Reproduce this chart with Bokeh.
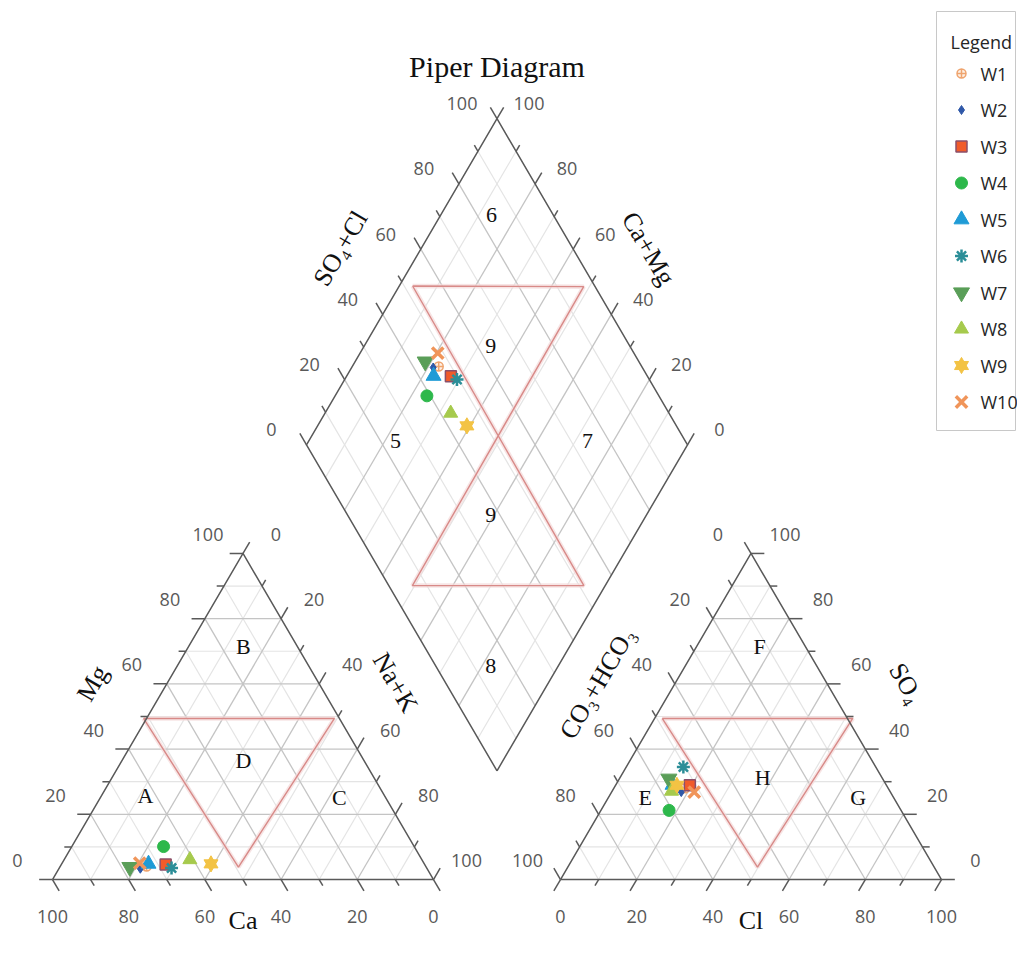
import numpy as np
from bokeh.plotting import figure
from bokeh.models import Range1d
from bokeh.embed import file_html
from bokeh.resources import INLINE
from bokeh.core.properties import value

# ---------------- data (percent of meq) ----------------
samples = ["W1", "W2", "W3", "W4", "W5", "W6", "W7", "W8", "W9", "W10"]
ca   = [73.3, 75.3, 68.0, 65.8, 72.4, 67.0, 77.8, 60.9, 56.0, 74.6]
mg   = [4.0, 3.3, 4.6, 10.1, 4.8, 3.5, 3.8, 6.1, 4.8, 5.0]
na_k = [22.7, 21.4, 27.4, 24.1, 22.8, 29.5, 18.4, 33.0, 39.2, 20.4]
so4  = [28.0, 26.8, 28.9, 21.2, 29.0, 34.5, 30.9, 27.1, 28.9, 26.8]
cl   = [18.7, 18.3, 19.5, 17.9, 14.9, 15.0, 13.0, 15.6, 16.1, 21.7]
hco3 = [53.3, 54.9, 51.6, 60.9, 56.1, 50.5, 56.1, 57.3, 55.0, 51.5]

tick_values = [0, 20, 40, 60, 80, 100]
cation_regions = ["A", "B", "C", "D"]
anion_regions = ["E", "F", "G", "H"]
diamond_regions = ["5", "6", "7", "8", "9", "9"]

# ---------------- geometry ----------------
S = np.sqrt(3) / 2
GAP = 100 / 3
OXR = 100 + GAP          # origin of the anion triangle
BX, BY = 100 + GAP / 2, GAP * S   # bottom vertex of the diamond


def cat_xy(na, m):
    return na + m / 2, S * m


def an_xy(c, s):
    return OXR + c + s / 2, S * s


def dia_xy(u, v):   # u = Ca+Mg, v = SO4+Cl
    return BX + 0.5 * (v - u), BY + S * (u + v)


p = figure(width=1017, height=940,
           x_range=Range1d(-13.648, 253.28), y_range=Range1d(-16.20, 233.47),
           x_axis_type=None, y_axis_type=None, toolbar_location=None,
           output_backend="svg", min_border=0, outline_line_color=None)
p.grid.visible = False

# ---------------- grids ----------------
maj_x, maj_y, min_x, min_y = [], [], [], []


def add_seg(a, b, k):
    if k % 20 == 0:
        maj_x.append([a[0], b[0]]); maj_y.append([a[1], b[1]])
    else:
        min_x.append([a[0], b[0]]); min_y.append([a[1], b[1]])


for ox in (0, OXR):
    for k in range(10, 100, 10):
        add_seg((ox + k / 2, S * k), (ox + 100 - k / 2, S * k), k)
        add_seg((ox + k, 0), (ox + k + (100 - k) / 2, S * (100 - k)), k)
        add_seg((ox + 100 - k, 0), (ox + (100 - k) / 2, S * (100 - k)), k)
for k in range(10, 100, 10):
    add_seg(dia_xy(k, 0), dia_xy(k, 100), k)
    add_seg(dia_xy(0, k), dia_xy(100, k), k)

p.multi_line(min_x, min_y, line_color="#E4E4E4", line_width=1.2)
p.multi_line(maj_x, maj_y, line_color="#C4C4C4", line_width=1.3)

# ---------------- red subdivision lines ----------------
red_l = [cat_xy(-0.8, 49.4), cat_xy(49.3, 49.4), cat_xy(46.9, 3.8), cat_xy(-0.8, 49.4)]
red_r = [an_xy(2.0, 49.4), an_xy(52.0, 49.4), an_xy(49.8, 3.8), an_xy(2.0, 49.4)]
d_tl, d_tr = dia_xy(96.5, 52.2), dia_xy(51.5, 97.0)
d_bl, d_br = dia_xy(50.6, 6.2), dia_xy(5.6, 51.2)
red_d = [d_tl, d_tr, d_bl, d_br, d_tl]
reds = [red_l, red_r, red_d]
rx = [[q[0] for q in r] for r in reds]
ry = [[q[1] for q in r] for r in reds]
p.multi_line(rx, ry, line_color="#F3DADA", line_width=4.5, line_alpha=0.7)
p.multi_line(rx, ry, line_color="#D88A88", line_width=1.4)

# ---------------- outlines ----------------
tri_l = [(0, 0), (100, 0), (50, 100 * S), (0, 0)]
tri_r = [(OXR, 0), (OXR + 100, 0), (OXR + 50, 100 * S), (OXR, 0)]
dia = [dia_xy(0, 0), dia_xy(100, 0), dia_xy(100, 100), dia_xy(0, 100), dia_xy(0, 0)]
p.multi_line([[q[0] for q in t] for t in (tri_l, tri_r, dia)],
             [[q[1] for q in t] for t in (tri_l, tri_r, dia)],
             line_color="#595959", line_width=1.5)

# ---------------- ticks ----------------
tx, ty = [], []


def add_tick(pt, d, k):
    L = 3.5 if k % 20 == 0 else 1.9
    tx.append([pt[0], pt[0] + d[0] * L]); ty.append([pt[1], pt[1] + d[1] * L])


for k in range(0, 101, 10):
    add_tick(cat_xy(0, k), (-1, 0), k)                       # Mg (left)
    add_tick(cat_xy(k, 100 - k), (0.5, S), k)                 # Na+K (right)
    add_tick(cat_xy(100 - k, 0), (0.5, -S), k)                # Ca (bottom)
    add_tick(an_xy(0, 100 - k), (-0.5, S), k)                 # CO3+HCO3 (left)
    add_tick(an_xy(100 - k, k), (1, 0), k)                    # SO4 (right)
    add_tick(an_xy(k, 0), (-0.5, -S), k)                      # Cl (bottom)
    add_tick(dia_xy(100, k), (-0.5, S), k)                    # SO4+Cl
    add_tick(dia_xy(k, 100), (0.5, S), k)                     # Ca+Mg
p.multi_line(tx, ty, line_color="#595959", line_width=1.5)

# ---------------- tick labels ----------------
lx, ly, lt = [], [], []
for t in tick_values:
    for (pt, off) in [
        (cat_xy(0, t), (-9.19, 5.05)),          # Mg
        (cat_xy(t, 100 - t), (8.66, 5.05)),     # Na+K
        (cat_xy(100 - t, 0), (0, -9.9)),        # Ca
        (an_xy(0, 100 - t), (-8.66, 5.05)),     # CO3+HCO3
        (an_xy(100 - t, t), (8.92, 5.05)),      # SO4
        (an_xy(t, 0), (0, -9.9)),               # Cl
        (dia_xy(100, t), (-9.19, 3.98)),        # SO4+Cl
        (dia_xy(t, 100), (8.4, 3.98)),          # Ca+Mg
    ]:
        lx.append(pt[0] + off[0]); ly.append(pt[1] + off[1]); lt.append(str(t))
p.text(lx, ly, text=lt, text_font=value("Open Sans"), text_font_size=value("18px"),
       text_color="#595959", text_align="center", text_baseline="middle")

# ---------------- titles ----------------
A60 = np.deg2rad(59.7)
serif = value("Liberation Serif")
p.text([BX], [215.9], text=["Piper Diagram"], text_font=serif, text_font_size=value("30px"),
       text_color="#111111", text_align="center", text_baseline="middle")
p.text([75.6, 156.4, 10.5, 90.0, 143.0, 224.1, 50.0, OXR + 50],
       [167.6, 167.6, 52.1, 52.3, 52.1, 52.1, -11.0, -11.0],
       text=["SO\u2084+Cl", "Ca+Mg", "Mg", "Na+K", "CO\u2083+HCO\u2083", "SO\u2084", "Ca", "Cl"],
       angle=[A60, -A60, A60, -A60, A60, -A60, 0, 0],
       text_font=serif, text_font_size=value("26px"), text_color="#111111",
       text_align="center", text_baseline="middle")

# region labels
reg_xy = [(24.4, 22.3), (50.1, 61.9), (75.3, 21.8), (50.1, 31.6),
          (155.6, 21.8), (185.6, 61.9), (211.5, 21.8), (186.4, 27.1),
          (90.0, 116.6), (115.2, 176.4), (140.4, 116.6), (115.0, 56.8), (115.0, 141.8), (115.0, 96.7)]
p.text([q[0] for q in reg_xy], [q[1] for q in reg_xy],
       text=cation_regions + anion_regions + diamond_regions,
       text_font=serif, text_font_size=value("22px"), text_color="#111111",
       text_align="center", text_baseline="middle")

# ---------------- samples ----------------
STY = {
    "W1": dict(marker=["circle_cross"], size=9, fill_color="#FDF0E6", line_color="#EFA46E", line_width=1.5),
    "W2": dict(marker=["diamond"], size=9, fill_color="#2F58A8", line_color="#2F58A8", line_width=1),
    "W3": dict(marker=["square"], size=11, fill_color="#F15B2A", line_color="#8A4F6A", line_width=1.5),
    "W4": dict(marker=["circle"], size=12, fill_color="#2DB84B", line_color="#2DB84B", line_width=1),
    "W5": dict(marker=["triangle"], size=15, fill_color="#1F9BD6", line_color="#1F9BD6", line_width=1),
    "W6": dict(marker=["asterisk"], size=13, fill_color=None, line_color="#2B8E98", line_width=2.5),
    "W7": dict(marker=["inverted_triangle"], size=16, fill_color="#5A9E58", line_color="#5A9E58", line_width=1),
    "W8": dict(marker=["triangle"], size=14, fill_color="#A6CA4D", line_color="#A6CA4D", line_width=1),
    "W9": dict(marker=["triangle", "inverted_triangle"], size=14, fill_color="#F3C344", line_color="#F3C344", line_width=1),
    "W10": dict(marker=["x"], size=16, fill_color=None, line_color="#F0955A", line_width=3.5),
}


def draw(name, xs, ys):
    st = STY[name]
    for mk in st["marker"]:
        p.scatter(xs, ys, marker=mk, size=st["size"], fill_color=st["fill_color"],
                  line_color=st["line_color"], line_width=st["line_width"])


for i, name in enumerate(samples):
    cx, cy = cat_xy(na_k[i], mg[i])
    axx, ayy = an_xy(cl[i], so4[i])
    dx, dy = dia_xy(ca[i] + mg[i], so4[i] + cl[i])
    draw(name, [cx, axx, dx], [cy, ayy, dy])

# ---------------- legend (drawn) ----------------
p.quad(left=[(936 - 52) / 3.81], right=[(1015 - 52) / 3.81], top=[(879 - 11) / 3.765], bottom=[(879 - 430) / 3.765],
       fill_color="white", line_color="#C8C8C8", line_width=1)
p.text([(950 - 52) / 3.81], [(879 - 41) / 3.765], text=["Legend"], text_font=value("Open Sans"),
       text_font_size=value("18px"), text_color="#262626", text_align="left", text_baseline="middle")
for i, name in enumerate(samples):
    yy = (879 - (73 + 36.5 * i)) / 3.765
    draw(name, [(961 - 52) / 3.81], [yy])
    p.text([(980 - 52) / 3.81], [yy], text=[name], text_font=value("Open Sans"), text_font_size=value("18px"),
           text_color="#262626", text_align="left", text_baseline="middle")

open("out.html", "w").write(file_html(p, INLINE))
